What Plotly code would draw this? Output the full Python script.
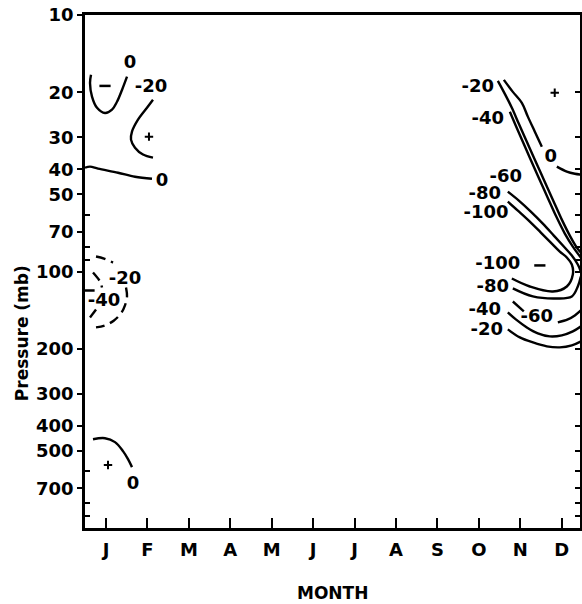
import plotly.graph_objects as go

# ---------------- data ----------------
months = ["J", "F", "M", "A", "M", "J", "J", "A", "S", "O", "N", "D"]
month_pos = list(range(12))
pressure_ticks = [10, 20, 30, 40, 50, 70, 100, 200, 300, 400, 500, 700]
pressure_minor = [60, 80, 90, 600, 800, 900]
right_ticks = [20, 30, 40, 50, 60, 70, 80, 90, 100, 200, 300, 400, 500, 600, 700, 800, 900]

# contour lines: (month position, pressure in mb)
c_jan_0_upper_m = [-0.362, -0.386, -0.338, -0.217, -0.024, 0.145, 0.265, 0.386, 0.507]
c_jan_0_upper_p = [17.1, 18.4, 20.8, 23.0, 24.1, 23.4, 21.8, 19.6, 17.4]
c_feb_m20_m = [1.134, 0.989, 0.772, 0.627, 0.603, 0.700, 0.893, 1.134]
c_feb_m20_p = [21.4, 23.0, 25.6, 28.5, 30.6, 32.9, 35.0, 36.0]
c_jan_0_lower_m = [-0.507, -0.386, -0.193, 0.290, 0.700, 1.110]
c_jan_0_lower_p = [39.4, 39.0, 39.7, 41.2, 42.7, 43.5]
c_jan_m20_dash_a_m = [-0.241, -0.048, 0.169]
c_jan_m20_dash_a_p = [87.4, 89.0, 92.3]
c_jan_m20_dash_b_m = [0.483, 0.507, 0.458, 0.362, 0.193, -0.024, -0.241]
c_jan_m20_dash_b_p = [115.4, 125.0, 135.6, 145.6, 155.2, 162.3, 165.2]
c_jan_m40_dash_a_m = [-0.314, -0.145, -0.097]
c_jan_m40_dash_a_p = [100.9, 109.4, 115.4]
c_jan_m40_dash_b_m = [-0.241, -0.386]
c_jan_m40_dash_b_p = [140.6, 151.0]
c_jan_0_low_m = [-0.314, -0.024, 0.217, 0.410, 0.531, 0.627]
c_jan_0_low_p = [450.6, 446.6, 462.6, 501.6, 538.9, 579.0]

c_dec_0a_m = [9.602, 9.819, 10.036, 10.181, 10.350, 10.519]
c_dec_0a_p = [17.9, 19.94, 22.0, 24.9, 28.5, 32.6]
c_dec_0b_m = [10.881, 11.122, 11.315, 11.46]
c_dec_0b_p = [39.0, 40.8, 41.6, 41.9]
c_dec_m20_top_m = [9.457, 9.626, 9.795, 9.964, 10.157, 10.350, 10.567, 10.784, 11.001, 11.194, 11.363, 11.46]
c_dec_m20_top_p = [18.06, 20.30, 23.0, 26.56, 31.2, 36.67, 43.85, 52.46, 62.77, 72.43, 80.66, 84.35]
c_dec_m40_top_m = [9.747, 9.891, 10.060, 10.229, 10.422, 10.639, 10.856, 11.074, 11.267, 11.46]
c_dec_m40_top_p = [23.85, 27.04, 31.2, 36.02, 42.33, 50.62, 60.54, 71.14, 79.94, 88.22]
c_dec_m80_top_m = [9.698, 9.964, 10.253, 10.543, 10.808, 11.049, 11.243, 11.387, 11.46]
c_dec_m80_top_p = [48.84, 52.93, 58.42, 65.06, 72.43, 79.94, 86.65, 93.93, 100.0]
c_dec_m80_bot_m = [11.46, 11.387, 11.243, 10.881, 10.302, 9.819]
c_dec_m80_bot_p = [104.6, 114.4, 125.1, 127.4, 125.1, 116.4]
c_dec_m100_m = [9.698, 9.940, 10.229, 10.495, 10.736, 10.953, 11.122, 11.243, 11.267, 11.122, 10.784, 10.229, 9.795]
c_dec_m100_p = [53.41, 57.89, 63.9, 70.5, 77.12, 83.6, 88.22, 93.93, 102.7, 114.4, 119.6, 114.4, 106.5]
c_dec_m60_a_m = [9.819, 10.084]
c_dec_m60_a_p = [130.9, 143.1]
c_dec_m60_b_m = [10.905, 11.146, 11.315, 11.46]
c_dec_m60_b_p = [157.9, 153.7, 148.3, 141.8]
c_dec_m40_bot_m = [9.698, 9.891, 10.157, 10.422, 10.712, 11.001, 11.267, 11.46]
c_dec_m40_bot_p = [144.4, 153.7, 165.2, 174.2, 179.1, 177.4, 171.2, 163.7]
c_dec_m20_bot_m = [9.698, 9.988, 10.302, 10.639, 10.953, 11.243, 11.46]
c_dec_m20_bot_p = [168.1, 180.7, 189.0, 195.8, 197.6, 194.1, 187.3]

solid_lines = [
    (c_jan_0_upper_m, c_jan_0_upper_p), (c_feb_m20_m, c_feb_m20_p),
    (c_jan_0_lower_m, c_jan_0_lower_p), (c_jan_0_low_m, c_jan_0_low_p),
    (c_dec_0a_m, c_dec_0a_p), (c_dec_0b_m, c_dec_0b_p),
    (c_dec_m20_top_m, c_dec_m20_top_p), (c_dec_m40_top_m, c_dec_m40_top_p),
    (c_dec_m80_top_m, c_dec_m80_top_p), (c_dec_m80_bot_m, c_dec_m80_bot_p),
    (c_dec_m100_m, c_dec_m100_p), (c_dec_m60_a_m, c_dec_m60_a_p),
    (c_dec_m60_b_m, c_dec_m60_b_p), (c_dec_m40_bot_m, c_dec_m40_bot_p),
    (c_dec_m20_bot_m, c_dec_m20_bot_p),
]
dashed_lines = [
    (c_jan_m20_dash_a_m, c_jan_m20_dash_a_p), (c_jan_m20_dash_b_m, c_jan_m20_dash_b_p),
    (c_jan_m40_dash_a_m, c_jan_m40_dash_a_p), (c_jan_m40_dash_b_m, c_jan_m40_dash_b_p),
]

# contour labels
label_text = ["0", "-20", "0", "-20", "-40", "0",
              "-20", "-40", "0", "-60", "-80", "-100", "-100", "-80", "-40", "-60", "-20"]
label_m = [0.579, 1.086, 1.351, 0.46, -0.048, 0.651,
           8.975, 9.216, 10.736, 9.65, 9.144, 9.17, 9.457, 9.337, 9.144, 10.398, 9.192]
label_p = [15.5, 19.2, 44.7, 107.0, 130.9, 674.0,
           19.23, 25.6, 36.0, 43.1, 50.2, 59.5, 93.9, 115.4, 142.0, 151.0, 169.5]

plus_m = [1.037, 0.048, 10.83]
plus_p = [29.8, 568.0, 20.1]
minus_m = [-0.024, -0.41, 10.471]
minus_p = [18.9, 118.6, 94.7]

# ---------------- figure ----------------
FONT = "DejaVu Sans"
fig = go.Figure()
for xs, ys in solid_lines:
    fig.add_trace(go.Scatter(x=xs, y=ys, mode="lines", line=dict(color="black", width=2.4, shape="spline"),
                             hoverinfo="skip", showlegend=False))
for xs, ys in dashed_lines:
    fig.add_trace(go.Scatter(x=xs, y=ys, mode="lines",
                             line=dict(color="black", width=2.4, shape="spline", dash="10px,6px"),
                             hoverinfo="skip", showlegend=False))
fig.add_trace(go.Scatter(x=label_m, y=label_p, mode="text", text=label_text,
                         textfont=dict(family=FONT, size=18, color="black", weight="bold"),
                         hoverinfo="skip", showlegend=False))
fig.add_trace(go.Scatter(x=plus_m, y=plus_p, mode="markers",
                         marker=dict(symbol="cross-thin", size=6, line=dict(color="black", width=2)),
                         hoverinfo="skip", showlegend=False))
fig.add_trace(go.Scatter(x=minus_m, y=minus_p, mode="markers",
                         marker=dict(symbol="line-ew", size=8, line=dict(color="black", width=2.5)),
                         hoverinfo="skip", showlegend=False))
# carrier for the right-hand tick axis
fig.add_trace(go.Scatter(x=[month_pos[0]], y=[pressure_ticks[0]], yaxis="y2", mode="markers",
                         marker=dict(opacity=0), hoverinfo="skip", showlegend=False))

fig.update_layout(
    width=582, height=604,
    margin=dict(l=85, r=2, t=15, b=76, autoexpand=False),
    paper_bgcolor="white", plot_bgcolor="white",
    font=dict(family=FONT, size=18, color="black"),
    xaxis=dict(range=[-0.507, 11.44], tickmode="array", tickvals=month_pos, ticktext=months,
               ticks="inside", ticklen=10, tickwidth=2, tickcolor="black",
               showline=True, linewidth=2.6, linecolor="black", mirror=True,
               showgrid=False, zeroline=False, automargin=False,
               tickfont=dict(family=FONT, size=18, weight="bold"), ticklabelstandoff=4),
    yaxis=dict(type="log", range=[3, 1], autorange=False, tickmode="array",
               tickvals=pressure_ticks, ticktext=[str(v) for v in pressure_ticks],
               ticks="outside", ticklen=5, tickwidth=2, tickcolor="black",
               minor=dict(tickmode="array", tickvals=pressure_minor, ticks="inside",
                          ticklen=5, tickwidth=2, tickcolor="black", showgrid=False),
               showline=True, linewidth=2.8, linecolor="black", mirror=True,
               showgrid=False, zeroline=False, automargin=False,
               tickfont=dict(family=FONT, size=18, weight="bold")),
    yaxis2=dict(type="log", range=[3, 1], autorange=False, overlaying="y", side="right",
                tickmode="array", tickvals=right_ticks, ticks="inside", ticklen=5, tickwidth=2,
                tickcolor="black", showticklabels=False, showline=False, showgrid=False,
                zeroline=False, automargin=False),
    annotations=[
        dict(text="MONTH", xref="paper", yref="paper", x=0.5, y=-0.127, showarrow=False,
             xanchor="center", yanchor="middle", font=dict(family=FONT, size=17, weight="bold")),
        dict(text="Pressure (mb)", xref="paper", yref="paper", x=-0.127, y=0.38, showarrow=False,
             textangle=-90, xanchor="center", yanchor="middle",
             font=dict(family=FONT, size=17, weight="bold")),
    ],
)

fig.write_html("out.html", config={"displayModeBar": False},
               post_script="document.body.style.margin='0';document.body.style.overflow='hidden';")
